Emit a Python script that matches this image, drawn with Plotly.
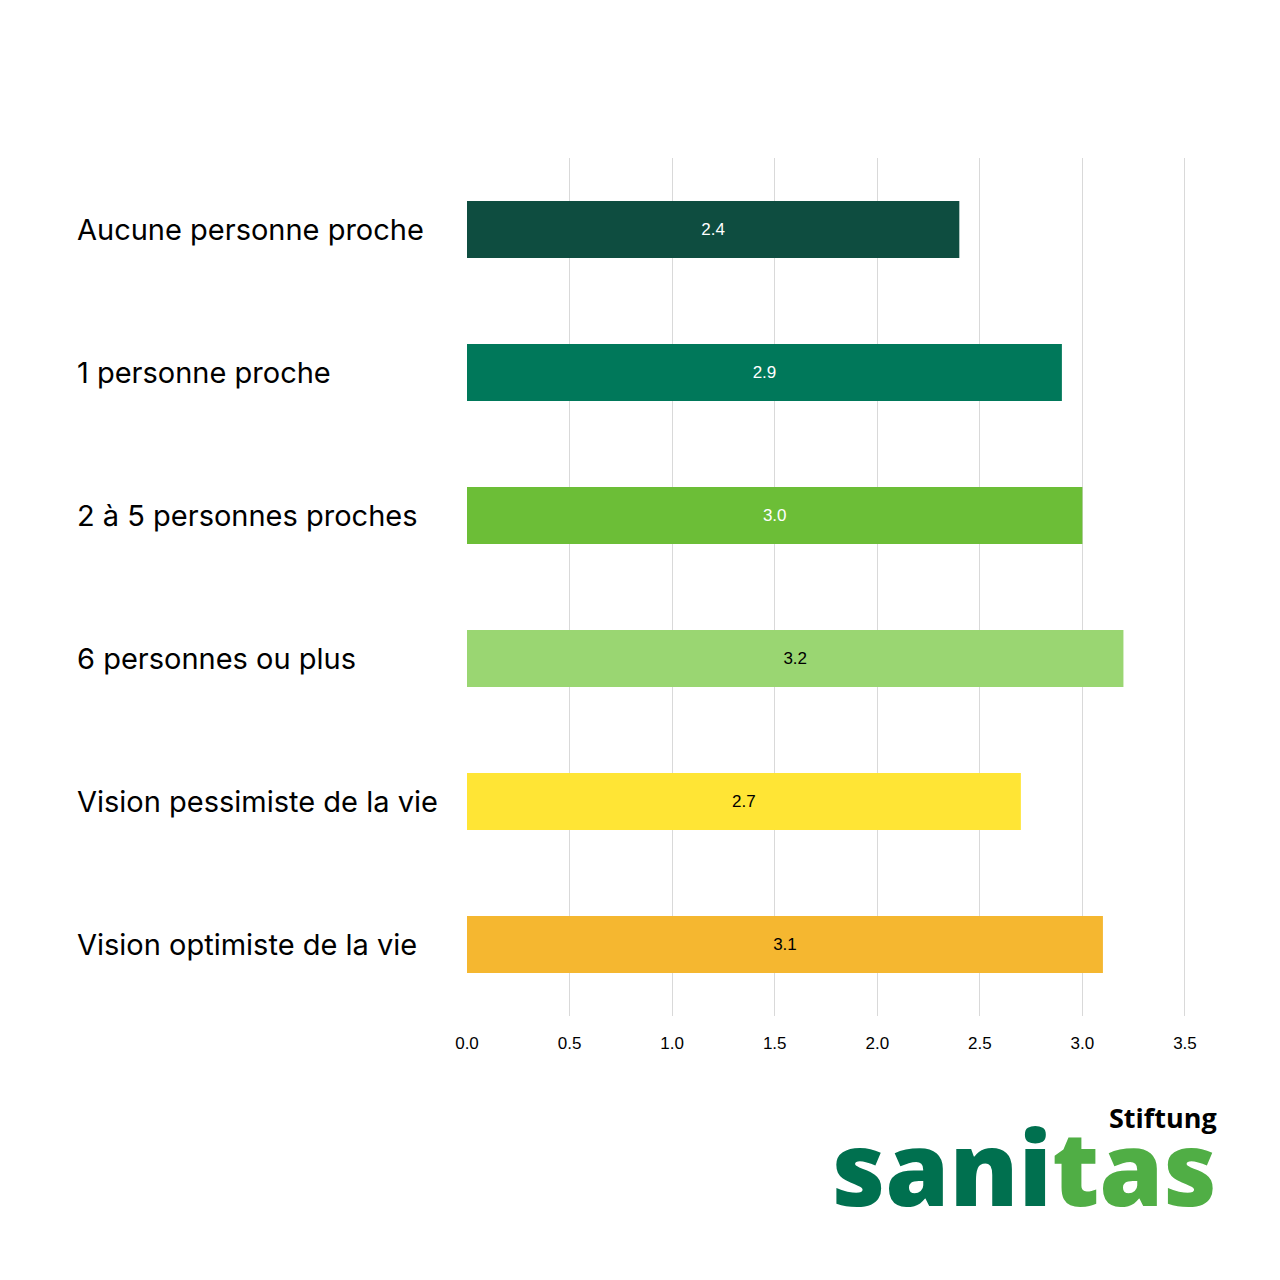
import plotly.graph_objects as go

categories = [
    "Aucune personne proche",
    "1 personne proche",
    "2 à 5 personnes proches",
    "6 personnes ou plus",
    "Vision pessimiste de la vie",
    "Vision optimiste de la vie",
]
values = [2.4, 2.9, 3.0, 3.2, 2.7, 3.1]
bar_colors = ["#0E4D40", "#00785A", "#6CBE37", "#9AD672", "#FFE535", "#F5B730"]
label_colors = ["white", "white", "white", "black", "black", "black"]
tick_vals = [0, 0.5, 1.0, 1.5, 2.0, 2.5, 3.0, 3.5]

fig = go.Figure(go.Bar(
    x=values, y=categories, orientation="h",
    marker=dict(color=bar_colors, line=dict(width=0)),
    width=0.4,
    text=[f"{v:.1f}" for v in values],
    textposition="inside", insidetextanchor="middle",
    textfont=dict(family="Liberation Sans, Arial", size=17, color=label_colors),
    hoverinfo="skip",
))

annotations = []
for c in categories:
    annotations.append(dict(
        x=-0.5446, xref="paper", y=c, yref="y", text=c, showarrow=False,
        xanchor="left", yanchor="middle",
        font=dict(family="Inter, Noto Sans, sans-serif", size=29, color="black"),
    ))

annotations.append(dict(
    x=1.046, xref="paper", y=-0.259, yref="paper", showarrow=False,
    xanchor="right", yanchor="bottom", align="right",
    text=("<span style='font-size:27px;color:black'><b>Stiftung</b></span><br>"
          "<span style='font-size:103px;font-weight:800'>"
          "<span style='color:#00704F'>sani</span><span style='color:#50AE45'>tas</span></span>"),
    font=dict(family="Open Sans, sans-serif", size=60, weight=800),
))

fig.update_layout(
    width=1280, height=1280,
    margin=dict(l=467, r=94, t=158, b=264),
    paper_bgcolor="white", plot_bgcolor="white",
    showlegend=False,
    annotations=annotations,
    xaxis=dict(
        range=[0, 3.505], tickvals=tick_vals, ticktext=[f"{t:.1f}" for t in tick_vals],
        showgrid=True, gridcolor="#D9D9D9", gridwidth=1,
        zeroline=False, showline=False, ticks="",
        tickfont=dict(family="Liberation Sans Narrow, Arial Narrow, Liberation Sans", size=17, color="black"),
        ticklabelstandoff=15,
    ),
    yaxis=dict(
        autorange="reversed", showticklabels=False, showgrid=False,
        zeroline=False, showline=False, ticks="",
    ),
)

fig.write_html("out.html")
